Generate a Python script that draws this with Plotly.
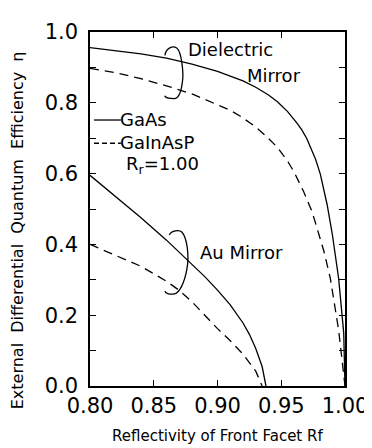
import plotly.graph_objects as go

# Dielectric mirror, GaAs (solid)
rf_diel_gaas = [0.80, 0.82, 0.84, 0.86, 0.88, 0.90, 0.91, 0.92, 0.93, 0.94, 0.947, 0.955, 0.9625, 0.966, 0.97, 0.974, 0.977, 0.9807, 0.986, 0.99, 0.995, 0.999, 1.0]
eta_diel_gaas = [0.956, 0.948, 0.938, 0.926, 0.909, 0.889, 0.876, 0.862, 0.844, 0.822, 0.803, 0.775, 0.742, 0.724, 0.699, 0.668, 0.640, 0.598, 0.512, 0.43, 0.304, 0.15, 0.0]

# Dielectric mirror, GaInAsP (dashed)
rf_diel_gainasp = [0.80, 0.82, 0.84, 0.86, 0.88, 0.90, 0.91, 0.918, 0.93, 0.939, 0.947, 0.955, 0.96, 0.9677, 0.974, 0.978, 0.9835, 0.9885, 0.995, 1.0]
eta_diel_gainasp = [0.897, 0.885, 0.868, 0.848, 0.825, 0.795, 0.779, 0.762, 0.732, 0.703, 0.674, 0.635, 0.605, 0.548, 0.494, 0.447, 0.38, 0.304, 0.158, 0.0]

# Au mirror, GaAs (solid)
rf_au_gaas = [0.80, 0.82, 0.84, 0.86, 0.88, 0.89, 0.90, 0.91, 0.92, 0.925, 0.93, 0.935, 0.938]
eta_au_gaas = [0.595, 0.535, 0.475, 0.412, 0.345, 0.309, 0.271, 0.229, 0.178, 0.146, 0.106, 0.055, 0.0]

# Au mirror, GaInAsP (dashed)
rf_au_gainasp = [0.80, 0.82, 0.84, 0.86, 0.87, 0.88, 0.89, 0.90, 0.91, 0.92, 0.93, 0.935]
eta_au_gainasp = [0.40, 0.37, 0.338, 0.296, 0.27, 0.238, 0.2, 0.162, 0.128, 0.09, 0.042, 0.0]

x_ticks = [0.80, 0.85, 0.90, 0.95, 1.00]
x_tick_labels = ["0.80", "0.85", "0.90", "0.95", "1.00"]
y_ticks = [0.0, 0.2, 0.4, 0.6, 0.8, 1.0]
y_tick_labels = ["0.0", "0.2", "0.4", "0.6", "0.8", "1.0"]

FONT = "DejaVu Sans"
solid = dict(color="black", width=1.3)
dashed = dict(color="black", width=1.3, dash="9px,6px")

fig = go.Figure()
fig.add_trace(go.Scatter(x=rf_diel_gaas, y=eta_diel_gaas, mode="lines", line=solid))
fig.add_trace(go.Scatter(x=rf_diel_gainasp, y=eta_diel_gainasp, mode="lines", line=dashed))
fig.add_trace(go.Scatter(x=rf_au_gaas, y=eta_au_gaas, mode="lines", line=solid))
fig.add_trace(go.Scatter(x=rf_au_gainasp, y=eta_au_gainasp, mode="lines", line=dashed))

# hand-drawn loops
loop_diel = ("M 0.8588,0.934 C 0.8595,0.955 0.8650,0.962 0.8680,0.955 "
             "C 0.8720,0.945 0.8735,0.880 0.8725,0.86 "
             "C 0.8715,0.83 0.8690,0.812 0.8660,0.812 "
             "C 0.8620,0.812 0.8590,0.815 0.8586,0.820")
loop_au = ("M 0.8622,0.427 C 0.864,0.44 0.870,0.442 0.872,0.435 "
           "C 0.876,0.42 0.878,0.37 0.876,0.33 "
           "C 0.874,0.29 0.870,0.262 0.866,0.260 "
           "C 0.862,0.258 0.859,0.262 0.8588,0.268")
for p in (loop_diel, loop_au):
    fig.add_shape(type="path", path=p, xref="x", yref="y", line=dict(color="black", width=1.3))

# legend line samples (paper coords)
fig.add_shape(type="line", xref="paper", yref="paper", x0=4/256, x1=31/256, y0=(378-103)/366, y1=(378-103)/366,
              line=dict(color="black", width=1.3))
fig.add_shape(type="line", xref="paper", yref="paper", x0=4/256, x1=31/256, y0=(378-127)/366, y1=(378-127)/366,
              line=dict(color="black", width=1.3, dash="5px,3px"))

def txt(x, y, s, size=18, **kw):
    fig.add_annotation(x=x, y=y, xref="paper", yref="paper", text=s, showarrow=False,
                       xanchor="left", yanchor="middle", font=dict(family=FONT, size=size, color="black"), **kw)

txt((178-82)/256, (378-30)/366, "Dielectric")
txt((238-82)/256, (378-57)/366, "Mirror")
txt((110-82)/256, (378-102)/366, "GaAs")
txt((110-82)/256, (378-126)/366, "GaInAsP")
txt((116-82)/256, (378-150)/366, "R<sub>r</sub>=1.00")
txt((190-82)/256, (378-240)/366, "Au Mirror")

# axis titles
fig.add_annotation(x=0, y=(378-217)/366, xref="paper", yref="paper", xshift=-73, textangle=-90,
                   text="External  Differential  Quantum  Efficiency  η", showarrow=False,
                   xanchor="center", yanchor="middle", font=dict(family=FONT, size=16, color="black"))
fig.add_annotation(x=0.5, y=0, xref="paper", yref="paper", yshift=-50,
                   text="Reflectivity of Front Facet Rf", showarrow=False,
                   xanchor="center", yanchor="middle", font=dict(family=FONT, size=15, color="black"))

fig.update_xaxes(range=[0.80, 1.00], tickvals=x_ticks, ticktext=x_tick_labels, ticks="inside", ticklen=6,
                 tickwidth=1.3, tickcolor="black", showline=True, linecolor="black", linewidth=1.5,
                 mirror="ticks", showgrid=False, zeroline=False,
                 tickfont=dict(family=FONT, size=21, color="black"))
fig.update_yaxes(range=[0.0, 1.0], tickvals=y_ticks, ticktext=y_tick_labels, ticks="inside", ticklen=6,
                 tickwidth=1.3, tickcolor="black", showline=True, linecolor="black", linewidth=1.5,
                 mirror="ticks", showgrid=False, zeroline=False, ticklabelstandoff=6,
                 minor=dict(dtick=0.1, ticks="inside", ticklen=6, tickwidth=1.3, tickcolor="black", showgrid=False),
                 tickfont=dict(family=FONT, size=21, color="black"))

fig.update_layout(width=372, height=448, margin=dict(l=82, r=34, t=12, b=70),
                  paper_bgcolor="white", plot_bgcolor="white", showlegend=False)

fig.write_html("out.html")
